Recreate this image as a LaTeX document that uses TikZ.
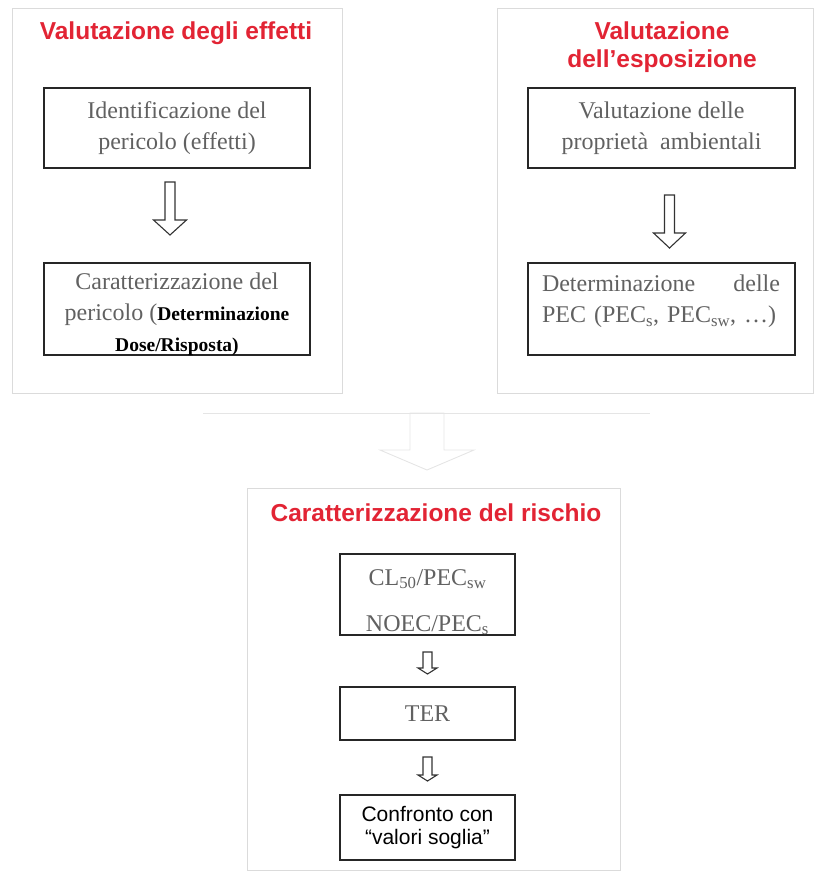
\documentclass[tikz,border=0pt]{standalone}
\usepackage{fontspec}
\setmainfont{Liberation Serif}
\setsansfont{Liberation Sans}
\usepackage{tikz}
\usetikzlibrary{calc, positioning}

% hollow block arrow pointing down: [style]{top}{tip}{shaft half}{head half}{head length}
\newcommand{\hollowdown}[6][blockarrow]{%
  \draw[#1] let \p1=(#2), \p2=(#3) in
    (\x1-#4pt,\y1) -- (\x1-#4pt,\y2+#6pt) -- (\x1-#5pt,\y2+#6pt) -- (\x2,\y2)
    -- (\x1+#5pt,\y2+#6pt) -- (\x1+#4pt,\y2+#6pt) -- (\x1+#4pt,\y1) -- cycle;}

\begin{document}
\begin{tikzpicture}[x=1pt, y=-1pt, every node/.style={align=center}]
      \definecolor{titlered}{RGB}{226,36,52}
      \colorlet{boxtext}{black!62}
      \tikzset{
        panel/.style={draw=black!14, line width=0.9pt, inner sep=0pt},
        stepbox/.style={draw=black!85, line width=1.6pt, inner sep=0pt, text=boxtext,
          font=\fontsize{24}{31}\selectfont},
        boxlabel/.style={text=boxtext, inner sep=0pt, font=\fontsize{24}{31}\selectfont},
        paneltitle/.style={text=titlered, inner sep=0pt, font=\sffamily\bfseries\fontsize{24.5}{28}\selectfont},
        blockarrow/.style={draw=black!80, line width=1.1pt, fill=white, line join=miter},
        faintarrow/.style={draw=black!10, line width=0.9pt},
      }
      \useasboundingbox (0,0) rectangle (814,871);

      % the three panels
      \node[panel, minimum width=330pt, minimum height=385pt] (effpanel) at (177,200.5) {};
      \node[panel, minimum width=316pt, minimum height=385pt] (esppanel) at (655,200.5) {};
      \node[panel, minimum width=373pt, minimum height=382pt] (riskpanel) at (433.5,679) {};

      \node[paneltitle] (efftitle) at (176,33) {Valutazione degli effetti};
      \node[paneltitle] (esptitle) at (662,47) {Valutazione\\dell’esposizione};
      \node[paneltitle] (risktitle) at (436,513) {Caratterizzazione del rischio};

      % effects
      \node[stepbox, minimum width=266pt, minimum height=80pt] (idbox) at (177,128)
        {Identificazione del\\pericolo (effetti)};
      \node[stepbox, minimum width=266pt, minimum height=92pt] (carbox) at (177,309) {};
      \node[boxlabel] (cartext) at (177,314)
        {Caratterizzazione del\\pericolo ({\bfseries\color{black}\fontsize{19.5}{26}\selectfont Determinazione}\\
         {\bfseries\color{black}\fontsize{19.5}{26}\selectfont Dose/Risposta)}};
      \coordinate (a1) at (170,182); \coordinate (a1tip) at (170,235);
      \hollowdown{a1}{a1tip}{5}{16.5}{15}

      % exposure
      \node[stepbox, minimum width=267pt, minimum height=80pt] (propbox) at (661.5,128)
        {Valutazione delle\\proprietà\ \ ambientali};
      \node[stepbox, minimum width=267pt, minimum height=92pt] (pecbox) at (661.5,309) {};
      \node[boxlabel, text width=238pt, align=left] (pectext) at (661,301)
        {\makebox[238pt][s]{Determinazione\hfill delle}\\
         PEC (PEC\textsubscript{s}, PEC\textsubscript{sw}, …)};
      \coordinate (a2) at (669.5,195); \coordinate (a2tip) at (669.5,248);
      \hollowdown{a2}{a2tip}{5}{16}{15}

      % faint joining arrow
      \coordinate (joinL) at (203,413); \coordinate (joinR) at (650,413);
      \coordinate (join) at (427,413); \coordinate (jointip) at (427,470);
      \draw[faintarrow] (joinL) -- (joinR);
      \hollowdown[faintarrow]{join}{jointip}{17}{47}{20}

      % risk
      \node[stepbox, minimum width=175pt, minimum height=81pt] (ratiobox) at (427.5,594.5) {};
      \node[boxlabel, font=\fontsize{24}{46}\selectfont] (ratiotext) at (427.5,602)
        {CL\textsubscript{50}/PEC\textsubscript{sw}\\NOEC/PEC\textsubscript{s}};
      \node[stepbox, minimum width=175pt, minimum height=53pt] (terbox) at (427.5,713.5) {TER};
      \node[stepbox, minimum width=175pt, minimum height=65pt, text=black,
        font=\sffamily\fontsize{21}{23}\selectfont] (confbox) at (427.5,827.5)
        {Confronto con\\“valori soglia”};
      \coordinate (a3) at (427.5,652); \coordinate (a3tip) at (427.5,674);
      \hollowdown{a3}{a3tip}{4.5}{9.5}{6}
      \coordinate (a4) at (427.5,757); \coordinate (a4tip) at (427.5,781);
      \hollowdown{a4}{a4tip}{4.5}{9.5}{6}
    \end{tikzpicture}
\end{document}
